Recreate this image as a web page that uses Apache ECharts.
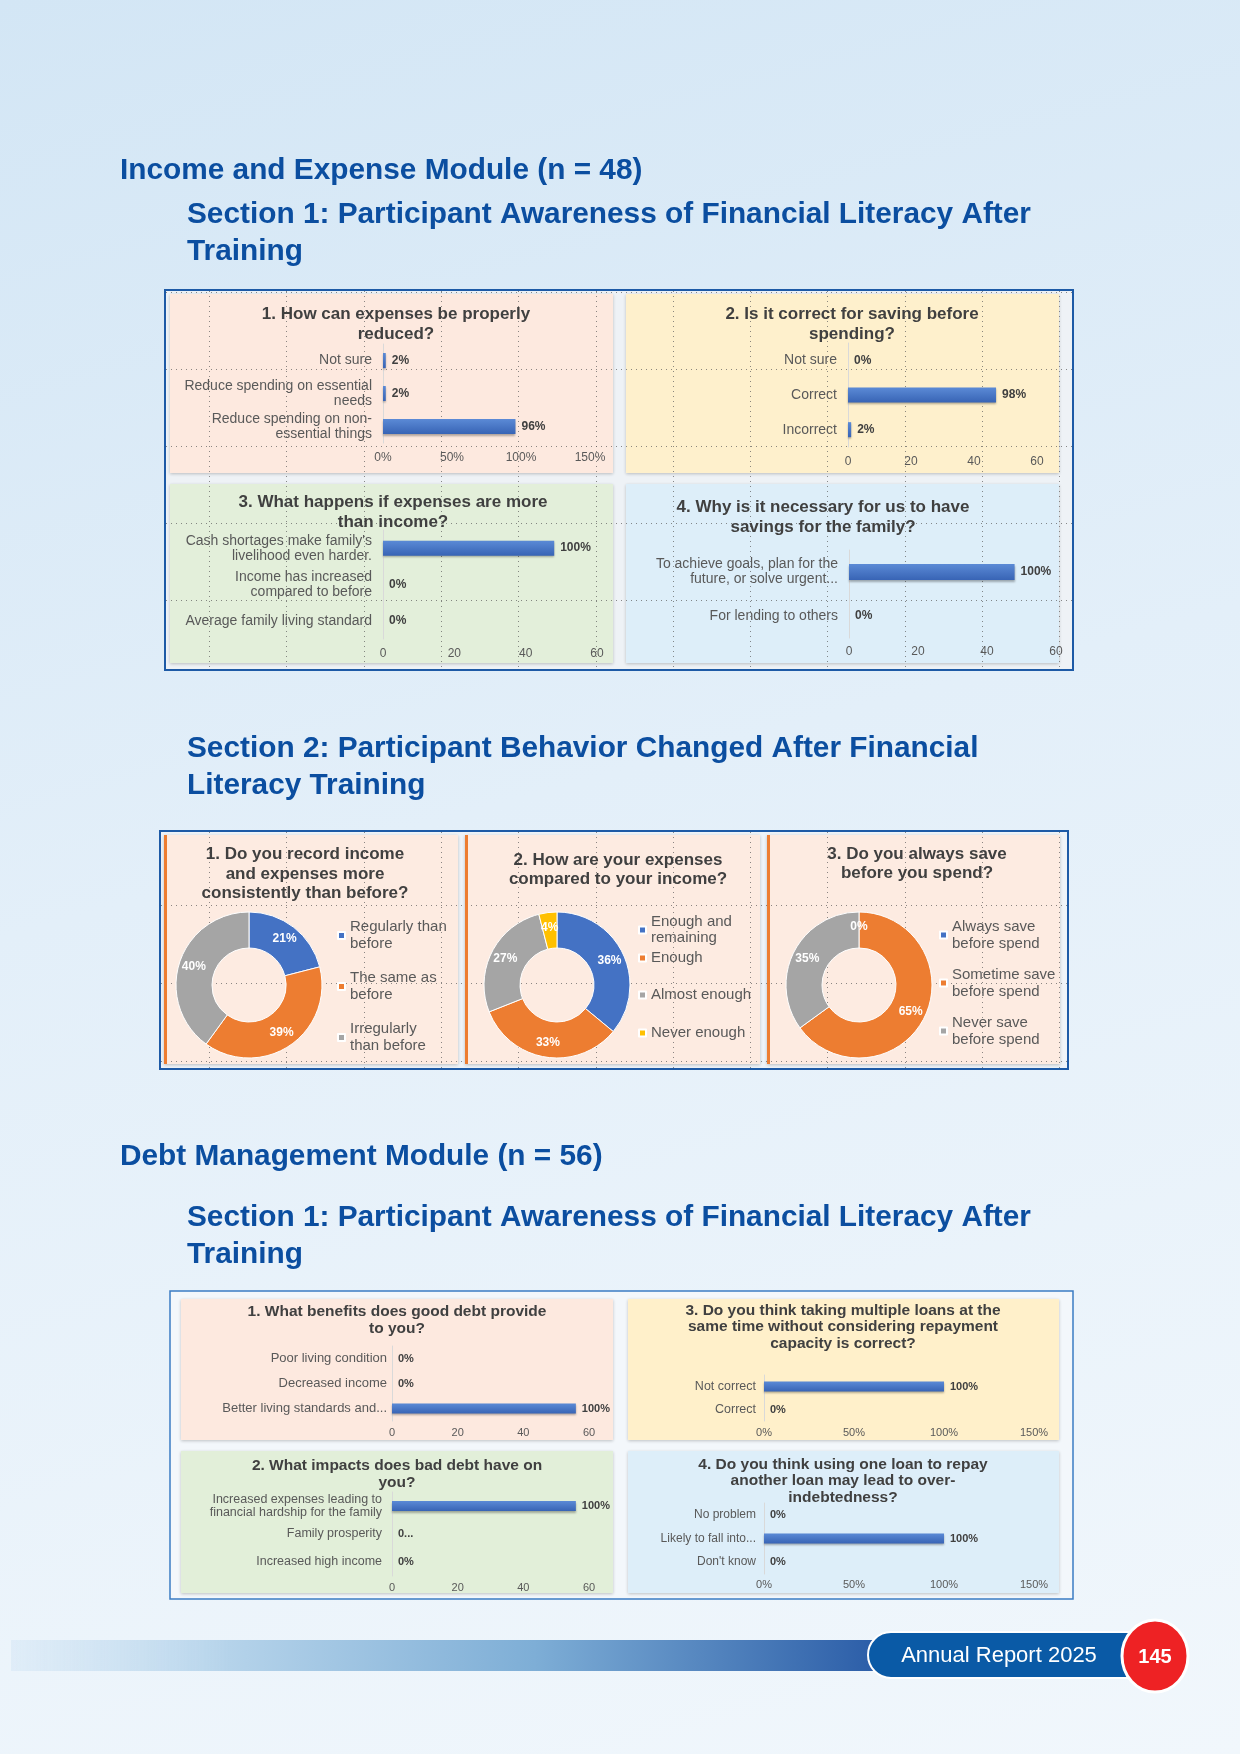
<!DOCTYPE html>
<html>
<head>
<meta charset="UTF-8">
<title>Annual Report 2025 - 145</title>
<script src="https://cdn.jsdelivr.net/npm/echarts@6/dist/echarts.min.js"></script>
<style>
html, body { margin: 0; padding: 0; }
body { width: 1240px; height: 1754px; background: linear-gradient(165deg, #d3e6f5 0%, #e3eff9 45%, #f1f7fc 100%); }
#main { width: 1240px; height: 1754px; }
</style>
</head>
<body>
<div id="main"></div>
<script>
// Income and Expense Module - section 1 (bars)
var ie1Cats = ['Not sure', 'Reduce spending on essential\nneeds', 'Reduce spending on non-\nessential things'];
var ie1Vals = [2, 2, 96];
var ie1Labels = ['2%', '2%', '96%'];
var ie2Cats = ['Not sure', 'Correct', 'Incorrect'];
var ie2Vals = [0, 47, 1];
var ie2Labels = ['0%', '98%', '2%'];
var ie3Cats = ["Cash shortages make family's\nlivelihood even harder.", 'Income has increased\ncompared to before', 'Average family living standard'];
var ie3Vals = [48, 0, 0];
var ie3Labels = ['100%', '0%', '0%'];
var ie4Cats = ['To achieve goals, plan for the\nfuture, or solve urgent...', 'For lending to others'];
var ie4Vals = [48, 0];
var ie4Labels = ['100%', '0%'];

// Income and Expense Module - section 2 (donuts, %)
var d1Names = ['Regularly than\nbefore', 'The same as\nbefore', 'Irregularly\nthan before'];
var d1Vals = [21, 39, 40];
var d2Names = ['Enough and\nremaining', 'Enough', 'Almost enough', 'Never enough'];
var d2Vals = [36, 33, 27, 4];
var d3Names = ['Always save\nbefore spend', 'Sometime save\nbefore spend', 'Never save\nbefore spend'];
var d3Vals = [0, 65, 35];

// Debt Management Module - section 1 (bars)
var dm1Cats = ['Poor living condition', 'Decreased income', 'Better living standards and...'];
var dm1Vals = [0, 0, 56];
var dm1Labels = ['0%', '0%', '100%'];
var dm2Cats = ['Increased expenses leading to\nfinancial hardship for the family', 'Family prosperity', 'Increased high income'];
var dm2Vals = [56, 0, 0];
var dm2Labels = ['100%', '0...', '0%'];
var dm3Cats = ['Not correct', 'Correct'];
var dm3Vals = [100, 0];
var dm3Labels = ['100%', '0%'];
var dm4Cats = ['No problem', 'Likely to fall into...', "Don't know"];
var dm4Vals = [0, 100, 0];
var dm4Labels = ['0%', '100%', '0%'];

var FONT = "'Liberation Sans', Arial, sans-serif";
var HEAD = '#0b4ea0';
var pieColors = ['#4472c4', '#ed7d31', '#a5a5a5', '#ffc000'];

var chart = echarts.init(document.getElementById('main'));

var barFill = new echarts.graphic.LinearGradient(0, 0, 0, 1, [
    { offset: 0, color: '#5b8ad6' }, { offset: 1, color: '#3864b5' }]);

var grids = [], xAxes = [], yAxes = [], series = [];

function addBar(p) {
    var i = grids.length;
    grids.push({ left: p.box[0], top: p.box[1], width: p.box[2], height: p.box[3] });
    xAxes.push({
        gridIndex: i, type: 'value', min: 0, max: p.max, interval: p.step,
        axisLine: { show: false }, axisTick: { show: false }, splitLine: { show: false },
        axisLabel: { color: '#595959', fontSize: p.axisFont, fontFamily: FONT, margin: p.axisMargin,
            formatter: p.pct ? '{value}%' : '{value}' }
    });
    yAxes.push({
        gridIndex: i, type: 'category', inverse: true, data: p.cats,
        axisLine: { show: true, lineStyle: { color: '#d9d9d9' } }, axisTick: { show: false },
        axisLabel: { interval: 0, color: '#595959', fontSize: p.catFont, lineHeight: p.catFont + 1,
            fontFamily: FONT, margin: p.catMargin }
    });
    series.push({
        type: 'bar', xAxisIndex: i, yAxisIndex: i, data: p.vals, barWidth: p.barW,
        itemStyle: { color: barFill, shadowColor: 'rgba(0,0,0,0.3)', shadowBlur: 2, shadowOffsetY: 1.5 },
        label: { show: true, position: 'right', distance: 6, color: '#404040', fontWeight: 'bold',
            fontSize: p.valFont, fontFamily: FONT,
            formatter: function (q) { return p.labels[q.dataIndex]; } }
    });
}

// box 1
addBar({ box: [383, 344, 207, 99], cats: ie1Cats, vals: ie1Vals, labels: ie1Labels, max: 150, step: 50, pct: true,
    barW: 15, catFont: 14, catMargin: 11, axisFont: 12, valFont: 12, axisMargin: 9 });
addBar({ box: [848, 343, 189, 104], cats: ie2Cats, vals: ie2Vals, labels: ie2Labels, max: 60, step: 20, pct: false,
    barW: 15, catFont: 14, catMargin: 11, axisFont: 12, valFont: 12, axisMargin: 9 });
addBar({ box: [383, 530, 214, 109], cats: ie3Cats, vals: ie3Vals, labels: ie3Labels, max: 60, step: 20, pct: false,
    barW: 15, catFont: 14, catMargin: 11, axisFont: 12, valFont: 12, axisMargin: 9 });
addBar({ box: [849, 550, 207, 88], cats: ie4Cats, vals: ie4Vals, labels: ie4Labels, max: 60, step: 20, pct: false,
    barW: 16, catFont: 14, catMargin: 11, axisFont: 12, valFont: 12, axisMargin: 8 });
// box 3
addBar({ box: [392, 1346, 197, 75], cats: dm1Cats, vals: dm1Vals, labels: dm1Labels, max: 60, step: 20, pct: false,
    barW: 10, catFont: 13, catMargin: 5, axisFont: 11, valFont: 11, axisMargin: 6 });
addBar({ box: [764, 1375, 270, 46], cats: dm3Cats, vals: dm3Vals, labels: dm3Labels, max: 150, step: 50, pct: true,
    barW: 10, catFont: 12.5, catMargin: 8, axisFont: 11, valFont: 11, axisMargin: 6 });
addBar({ box: [392, 1492, 197, 84], cats: dm2Cats, vals: dm2Vals, labels: dm2Labels, max: 60, step: 20, pct: false,
    barW: 10, catFont: 12.5, catMargin: 10, axisFont: 11, valFont: 11, axisMargin: 6 });
addBar({ box: [764, 1503, 270, 71], cats: dm4Cats, vals: dm4Vals, labels: dm4Labels, max: 150, step: 50, pct: true,
    barW: 10, catFont: 12, catMargin: 8, axisFont: 11, valFont: 11, axisMargin: 5 });

function pieData(names, vals) {
    return names.map(function (n, k) {
        return { name: n, value: vals[k], itemStyle: { color: pieColors[k] } };
    });
}
function addPie(names, vals, cx) {
    series.push({
        type: 'pie', center: [cx, 985], radius: [37, 73], startAngle: 90, clockwise: true,
        data: pieData(names, vals),
        itemStyle: { borderColor: '#fff', borderWidth: 1 },
        label: { show: true, position: 'inside', color: '#fff', fontWeight: 'bold', fontSize: 12, fontFamily: FONT,
            formatter: function (q) { return q.value + '%'; } },
        labelLine: { show: false }
    });
}
addPie(d1Names, d1Vals, 249);
addPie(d2Names, d2Vals, 557);
addPie(d3Names, d3Vals, 859);

var legendText = { color: '#595959', fontSize: 15, fontFamily: FONT };
var legends = [
    { left: 337, top: 919, itemGap: 18, data: d1Names, textStyle: Object.assign({ lineHeight: 16.5 }, legendText) },
    { left: 638, top: 914, itemGap: 0, textStyle: Object.assign({ lineHeight: 16 }, legendText),
        data: [
            { name: d2Names[0] },
            { name: d2Names[1], textStyle: { lineHeight: 24 } },
            { name: d2Names[2], textStyle: { lineHeight: 50 } },
            { name: d2Names[3], textStyle: { lineHeight: 26 } }] },
    { left: 939, top: 918, itemGap: 14, data: d3Names, textStyle: Object.assign({ lineHeight: 17 }, legendText) }
].map(function (l) {
    return Object.assign({ orient: 'vertical', icon: 'rect', itemWidth: 7, itemHeight: 7, padding: 0,
        selectedMode: false }, l);
});

// page decoration
var g = [];
function rect(x, y, w, h, fill, extra) {
    g.push({ type: 'rect', z: 0, shape: { x: x, y: y, width: w, height: h },
        style: Object.assign({ fill: fill }, extra || {}) });
}
function text(x, y, s, o) {
    g.push({ type: 'text', z: 5, x: x, y: y,
        style: Object.assign({ text: s, fill: '#404040', fontFamily: FONT, fontWeight: 'bold', fontSize: 17,
            align: 'center', verticalAlign: 'middle' }, o || {}) });
}
var shadow = { shadowBlur: 3, shadowColor: 'rgba(0,0,0,0.22)', shadowOffsetY: 1 };

// headings
var headStyle = { fill: HEAD, fontSize: 29.8, align: 'left' };
text(120, 171, 'Income and Expense Module (n = 48)', headStyle);
text(187, 215, 'Section 1: Participant Awareness of Financial Literacy After', headStyle);
text(187, 252, 'Training', headStyle);
text(187, 749, 'Section 2: Participant Behavior Changed After Financial', headStyle);
text(187, 786, 'Literacy Training', headStyle);
text(120, 1157, 'Debt Management Module (n = 56)', headStyle);
text(187, 1218, 'Section 1: Participant Awareness of Financial Literacy After', headStyle);
text(187, 1255, 'Training', headStyle);

// box 1
rect(165, 290, 908, 380, '#eef2f6', { stroke: '#1d5aa6', lineWidth: 2 });
rect(170, 294, 443, 179, '#fde9df', shadow);
rect(626, 294, 433, 179, '#fef0cc', shadow);
rect(170, 484, 443, 179, '#e3efda', shadow);
rect(626, 484, 433, 179, '#ddeef9', shadow);
text(396, 324, '1. How can expenses be properly\nreduced?', { lineHeight: 20 });
text(852, 324, '2. Is it correct for saving before\nspending?', { lineHeight: 20 });
text(393, 512, '3. What happens if expenses are more\nthan income?', { lineHeight: 20 });
text(823, 517, '4. Why is it necessary for us to have\nsavings for the family?', { lineHeight: 20 });

// box 2
rect(160, 831, 908, 238, '#eef3f8', { stroke: '#1d5aa6', lineWidth: 2 });
[164, 465, 767].forEach(function (x, k) {
    rect(x, 835, [294, 295, 293][k], 229, '#fdebe1', shadow);
    g.push({ type: 'line', z: 3, shape: { x1: x + 1.5, y1: 835, x2: x + 1.5, y2: 1064 },
        style: { stroke: '#ed7d31', lineWidth: 3 } });
});
text(305, 874, '1. Do you record income\nand expenses more\nconsistently than before?', { lineHeight: 19.5 });
text(618, 870, '2. How are your expenses\ncompared to your income?', { lineHeight: 19.5 });
text(917, 864, '3. Do you always save\nbefore you spend?', { lineHeight: 19.5 });

// dotted guide grid over boxes 1 and 2
var dots = { stroke: '#5a5a5a', lineWidth: 1, lineDash: [1, 4], opacity: 0.7 };
for (var k = 0; k < 12; k++) {
    var vx = Math.round(209 + 77.3 * k) + 0.5;
    [[291, 669], [832, 1068]].forEach(function (r) {
        g.push({ type: 'line', z: 1, shape: { x1: vx, y1: r[0], x2: vx, y2: r[1] }, style: dots });
    });
}
[292, 369, 446, 523, 600, 905, 983, 1061].forEach(function (y) {
    var x1 = y < 700 ? 166 : 161, x2 = y < 700 ? 1072 : 1067;
    g.push({ type: 'line', z: 1, shape: { x1: x1, y1: y + 0.5, x2: x2, y2: y + 0.5 }, style: dots });
});

// box 3
rect(170, 1291, 903, 308, '#f3f7fb', { stroke: '#3b7cc3', lineWidth: 1.5 });
rect(181, 1299, 432, 141, '#fde9df', shadow);
rect(628, 1299, 431, 141, '#fff0ca', shadow);
rect(181, 1451, 432, 142, '#e2efd9', shadow);
rect(628, 1451, 431, 142, '#ddeef9', shadow);
var t3 = { fontSize: 15.5, lineHeight: 16.5 };
text(397, 1320, '1. What benefits does good debt provide\nto you?', t3);
text(843, 1327, '3. Do you think taking multiple loans at the\nsame time without considering repayment\ncapacity is correct?', t3);
text(397, 1474, '2. What impacts does bad debt have on\nyou?', t3);
text(843, 1481, '4. Do you think using one loan to repay\nanother loan may lead to over-\nindebtedness?', t3);

// footer
rect(11, 1640, 872, 31, new echarts.graphic.LinearGradient(0, 0, 1, 0, [
    { offset: 0, color: 'rgba(205,226,243,0.4)' }, { offset: 0.25, color: '#b5d3ea' },
    { offset: 0.6, color: '#7eaed6' }, { offset: 1, color: '#2a5ca7' }]));
g.push({ type: 'rect', z: 2, shape: { x: 868, y: 1632, width: 262, height: 46, r: [23, 0, 0, 23] },
    style: { fill: '#0a5aa6', stroke: '#fff', lineWidth: 2 } });
text(999, 1656, 'Annual Report 2025', { fill: '#fff', fontWeight: 'normal', fontSize: 22 });
g.push({ type: 'ellipse', z: 3, shape: { cx: 1155, cy: 1656, rx: 33, ry: 36 },
    style: { fill: '#ee2224', stroke: '#fff', lineWidth: 3 } });
g.push({ type: 'text', z: 6, x: 1155, y: 1657,
    style: { text: '145', fill: '#fff', fontFamily: FONT, fontWeight: 'bold', fontSize: 20,
        align: 'center', verticalAlign: 'middle' } });

chart.setOption({
    backgroundColor: 'transparent',
    animation: false,
    grid: grids,
    xAxis: xAxes,
    yAxis: yAxes,
    legend: legends,
    graphic: { elements: g },
    series: series
});
</script>
</body>
</html>
